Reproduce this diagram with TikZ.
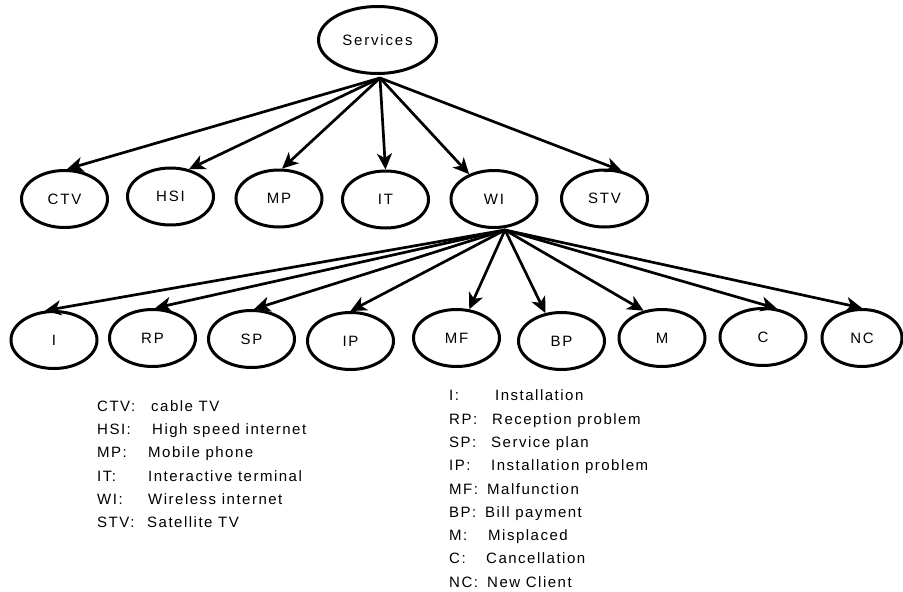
\documentclass[tikz,border=0pt]{standalone}
\usepackage{fontspec}
\setmainfont{Liberation Sans}
\newfontfamily\lblfont{Liberation Sans}[LetterSpace=12]
\newfontfamily\legfont{Liberation Sans}[LetterSpace=10]
\usetikzlibrary{arrows.meta,shapes.geometric}
\begin{document}
\begin{tikzpicture}[x=1pt,y=-1pt,
  ell/.style={draw, line width=3pt, ellipse, minimum width=86pt, minimum height=57pt, inner sep=0pt,
              font=\lblfont\fontsize{15}{17}\selectfont},
  arr/.style={line width=2.7pt, -{Stealth[length=16pt,width=15pt,inset=4.5pt]}},
  leg/.style={anchor=base west, inner sep=0pt, font=\legfont\fontsize{15}{17}\selectfont}]
\useasboundingbox (0,0) rectangle (903,592);
% top
\node[ell, minimum width=118pt, minimum height=67pt] (services) at (377.5,40) {Services};
\node[ell] (ctv) at (64.5,199) {CTV};
\node[ell] (hsi) at (170.5,196.5) {HSI};
\node[ell] (mp) at (279,198.5) {MP};
\node[ell] (it) at (385.5,199.5) {IT};
\node[ell] (wi) at (494,199) {WI};
\node[ell] (stv) at (604.5,198.5) {STV};
% bottom
\node[ell] (i) at (54,340) {I};
\node[ell] (rp) at (152.5,338) {RP};
\node[ell] (sp) at (251.5,339) {SP};
\node[ell] (ip) at (350.5,341) {IP};
\node[ell] (mf) at (456.5,338) {MF};
\node[ell] (bp) at (561.5,341) {BP};
\node[ell] (m) at (662,338) {M};
\node[ell] (c) at (763,337) {C};
\node[ell, minimum width=80pt] (nc) at (862,338) {NC};
% sources
\coordinate (s1) at (380,78);
\coordinate (s2) at (505,230);
\foreach \t/\a in {ctv/85, hsi/56, mp/84, it/90, wi/135, stv/58}
  \draw[arr] (s1) -- (\t.\a);
\foreach \t/\a in {i/107, rp/85, sp/85, ip/90, mf/66, bp/120, m/124, c/64, nc/90}
  \draw[arr] (s2) -- (\t.\a);
% left legend
\node[leg] (l1a) at (97,411) {CTV:};   \node[leg] (l1b) at (151,411) {cable TV};
\node[leg] (l2a) at (97,434) {HSI:};   \node[leg] (l2b) at (152,434) {High speed internet};
\node[leg] (l3a) at (97,457.5) {MP:};  \node[leg] (l3b) at (148,457.5) {Mobile phone};
\node[leg] (l4a) at (97,481) {IT:};    \node[leg] (l4b) at (148,481) {Interactive terminal};
\node[leg] (l5a) at (97,504) {WI:};    \node[leg] (l5b) at (148,504) {Wireless internet};
\node[leg] (l6a) at (97,527) {STV:};   \node[leg] (l6b) at (147,527) {Satellite TV};
% right legend
\node[leg] (r1a) at (449,400.5) {I:};  \node[leg] (r1b) at (495,400.5) {Installation};
\node[leg] (r2a) at (449,424) {RP:};   \node[leg] (r2b) at (492,424) {Reception problem};
\node[leg] (r3a) at (449,447) {SP:};   \node[leg] (r3b) at (491,447) {Service plan};
\node[leg] (r4a) at (449,470.5) {IP:}; \node[leg] (r4b) at (491,470.5) {Installation problem};
\node[leg] (r5a) at (449,494) {MF:};   \node[leg] (r5b) at (487,494) {Malfunction};
\node[leg] (r6a) at (449,517) {BP:};   \node[leg] (r6b) at (485,517) {Bill payment};
\node[leg] (r7a) at (449,540) {M:};    \node[leg] (r7b) at (488,540) {Misplaced};
\node[leg] (r8a) at (449,563.5) {C:};  \node[leg] (r8b) at (486,563.5) {Cancellation};
\node[leg] (r9a) at (449,587) {NC:};   \node[leg] (r9b) at (487,587) {New Client};
\end{tikzpicture}
\end{document}
